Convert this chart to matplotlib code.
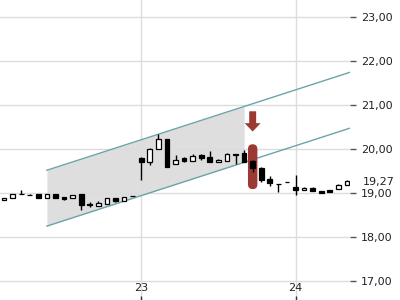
import numpy as np
import matplotlib
matplotlib.use("Agg")
import matplotlib.pyplot as plt
from matplotlib.patches import FancyBboxPatch
from matplotlib.ticker import FuncFormatter
import matplotlib.transforms as mtransforms

# candle data (one candle per bar index)
opens = [18.84, 18.88, 18.97, 18.96, 18.97, 18.89, 18.97, 18.91, 18.88, 18.97,
         18.75, 18.71, 18.76, 18.89, 18.83, 18.93, 19.79, 19.70, 20.00, 20.23,
         19.66, 19.79, 19.74, 19.87, 19.81, 19.70, 19.74, 19.89, 19.91, 19.73,
         19.57, 19.33, 19.21, 19.26, 19.14, 19.06, 19.12, 19.04, 19.06, 19.09,
         19.18]
highs = [18.88, 18.97, 19.06, 18.98, 18.97, 18.98, 18.97, 18.91, 18.95, 18.97,
         18.80, 18.82, 18.89, 18.89, 18.91, 18.93, 19.81, 20.03, 20.34, 20.23,
         19.86, 19.83, 19.90, 19.90, 19.96, 19.78, 19.92, 19.89, 19.98, 19.76,
         19.60, 19.38, 19.21, 19.26, 19.41, 19.15, 19.15, 19.04, 19.08, 19.21,
         19.30]
lows = [18.84, 18.88, 18.97, 18.96, 18.89, 18.89, 18.89, 18.84, 18.88, 18.62,
        18.69, 18.71, 18.76, 18.80, 18.83, 18.93, 19.30, 19.65, 20.00, 19.60,
        19.66, 19.70, 19.74, 19.76, 19.70, 19.70, 19.74, 19.67, 19.71, 19.48,
        19.26, 19.16, 19.03, 19.26, 18.95, 19.06, 19.04, 19.01, 19.03, 19.09,
        19.18]
closes = [18.88, 18.97, 18.97, 18.96, 18.89, 18.98, 18.89, 18.87, 18.95, 18.72,
          18.72, 18.77, 18.89, 18.83, 18.91, 18.93, 19.70, 20.00, 20.24, 19.60,
          19.76, 19.74, 19.85, 19.80, 19.70, 19.76, 19.89, 19.87, 19.71, 19.58,
          19.29, 19.22, 19.21, 19.26, 19.06, 19.12, 19.04, 19.01, 19.03, 19.18,
          19.27]

day_labels = ["23", "24"]
day_starts = [16, 34]
price_ticks = [17, 18, 19, 20, 21, 22, 23]

# trend channel
channel_start = 5
channel_end = 28
channel_upper = 19.52
channel_lower = 18.25
channel_slope = 0.063

signal_bar = 29
last_price = closes[-1]

fig = plt.figure(figsize=(4, 3), dpi=100)
ax = fig.add_axes([0, 0, 0.875, 1])
x = np.arange(len(closes))
x_max = 40.35
ax.set_xlim(-0.47, x_max)
ax.set_ylim(16.57, 23.39)

# shaded channel + lines
xs = np.array([channel_start, channel_end])
ax.fill_between(xs, channel_lower + channel_slope * (xs - channel_start),
                channel_upper + channel_slope * (xs - channel_start),
                color="#dedede", zorder=0.3, lw=0)
xl = np.array([channel_start, x_max + 1])
for base in (channel_upper, channel_lower):
    ax.plot(xl, base + channel_slope * (xl - channel_start), color="#6aa5aa",
            lw=1, zorder=1)

# highlight on signal candle
hl = FancyBboxPatch((signal_bar - 0.55, 19.09), 1.1, 20.11 - 19.09,
                    boxstyle="round,pad=0,rounding_size=0.55",
                    mutation_aspect=0.2, fc="#9a3a33", ec="none", zorder=2)
ax.add_patch(hl)

# candles
o = np.array(opens); c = np.array(closes)
up = c >= o
ax.vlines(x, lows, highs, color="black", lw=1, zorder=3)
body_w = 0.55
bottoms = np.minimum(o, c)
heights = np.abs(c - o)
ax.bar(x[up], heights[up], body_w, bottom=bottoms[up], color="white",
       edgecolor="black", lw=0.9, zorder=4)
ax.bar(x[~up], heights[~up], body_w, bottom=bottoms[~up], color="black",
       edgecolor="black", lw=0.9, zorder=4)

# down arrow above the signal candle
ax.annotate("", xy=(signal_bar, 20.40), xytext=(signal_bar, 20.86),
            arrowprops=dict(arrowstyle="simple,head_width=1.15,head_length=0.6,tail_width=0.5",
                            fc="#9a3a33", ec="none", shrinkA=0, shrinkB=0,
                            mutation_scale=10), zorder=5)

# axes styling
for s in ax.spines.values():
    s.set_visible(False)
ax.set_axisbelow(True)
ax.grid(True, color="#dcdcdc", lw=1)
ax.yaxis.tick_right()
ax.set_yticks(price_ticks)
ax.yaxis.set_major_formatter(FuncFormatter(lambda v, p: f"{v:.2f}".replace(".", ",")))
ax.tick_params(axis="y", direction="out", length=4, width=1, color="#555555",
               labelsize=8, labelcolor="#222222", pad=4)
ax.set_xticks(day_starts)
ax.set_xticklabels(day_labels)
ax.tick_params(axis="x", direction="in", length=3, width=1, color="#333333",
               labelsize=8, labelcolor="#222222", pad=-12)

trans = mtransforms.offset_copy(ax.get_yaxis_transform(), fig=fig, x=9, y=-0.5, units="points")
ax.text(1.0, last_price, f"{last_price:.2f}".replace(".", ","), transform=trans,
        fontsize=8, color="#222222", va="center", ha="left", clip_on=False)

fig.savefig("out.png", dpi=100)
